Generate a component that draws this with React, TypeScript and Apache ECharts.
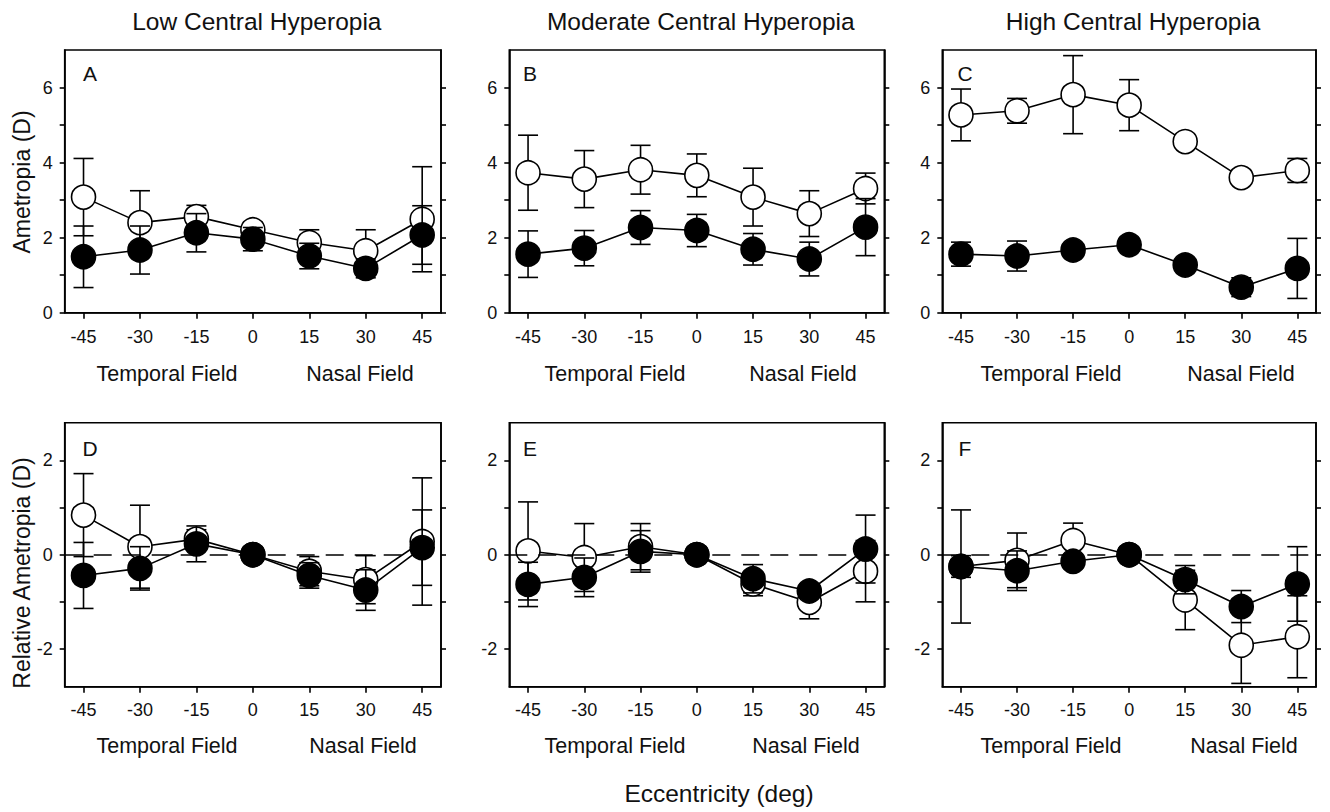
import React, { useEffect, useRef } from "react";
import * as echarts from "echarts";

// ---------- data ----------
const eccentricity = [-45, -30, -15, 0, 15, 30, 45];
const xTickLabels = [-45, -30, -15, 0, 15, 30, 45];

const panelTitles = ["Low Central Hyperopia", "Moderate Central Hyperopia", "High Central Hyperopia"];
const panelLetters = ["A", "B", "C", "D", "E", "F"];

// Panel A (absolute, low)
const openA = [3.08, 2.4, 2.56, 2.21, 1.87, 1.65, 2.49];
const openASd = [1.03, 0.85, 0.3, 0.2, 0.34, 0.56, 1.4];
const filledA = [1.49, 1.67, 2.13, 1.96, 1.51, 1.18, 2.07];
const filledASd = [0.82, 0.64, 0.51, 0.31, 0.34, 0.25, 0.78];

// Panel B (absolute, moderate)
const openB = [3.73, 3.56, 3.81, 3.66, 3.08, 2.64, 3.31];
const openBSd = [1.0, 0.76, 0.65, 0.57, 0.77, 0.61, 0.41];
const filledB = [1.56, 1.72, 2.27, 2.19, 1.69, 1.43, 2.28];
const filledBSd = [0.62, 0.47, 0.45, 0.43, 0.42, 0.45, 0.76];

// Panel C (absolute, high)
const openC = [5.27, 5.38, 5.81, 5.53, 4.56, 3.6, 3.79];
const openCSd = [0.69, 0.33, 1.04, 0.68, 0.15, 0.15, 0.32];
const filledC = [1.56, 1.51, 1.67, 1.81, 1.27, 0.68, 1.18];
const filledCSd = [0.32, 0.4, 0.15, 0.15, 0.15, 0.25, 0.8];

// Panel D (relative, low)
const openD = [0.84, 0.17, 0.33, 0, -0.35, -0.53, 0.28];
const openDSd = [0.88, 0.88, 0.2, 0, 0.31, 0.51, 1.35];
const filledD = [-0.44, -0.29, 0.23, 0, -0.44, -0.75, 0.15];
const filledDSd = [0.7, 0.46, 0.38, 0, 0.27, 0.43, 0.8];

// Panel E (relative, moderate)
const openE = [0.08, -0.06, 0.17, 0, -0.62, -1.01, -0.35];
const openESd = [1.04, 0.72, 0.49, 0, 0.25, 0.35, 0.65];
const filledE = [-0.63, -0.48, 0.07, 0, -0.51, -0.77, 0.12];
const filledESd = [0.47, 0.41, 0.44, 0, 0.3, 0.15, 0.72];

// Panel F (relative, high)
const openF = [-0.25, -0.12, 0.3, 0, -0.96, -1.92, -1.74];
const openFSd = [1.2, 0.58, 0.37, 0, 0.63, 0.81, 0.87];
const filledF = [-0.25, -0.34, -0.14, 0, -0.53, -1.1, -0.62];
const filledFSd = [0.23, 0.42, 0.15, 0, 0.3, 0.34, 0.79];

const topYTicks = [0, 1, 2, 3, 4, 5, 6];
const topYLabels = [0, 2, 4, 6];
const bottomYTicks = [-2, -1, 0, 1, 2];
const bottomYLabels = [-2, 0, 2];

// ---------- layout ----------
const FONT = '"Liberation Sans", Arial, Helvetica, sans-serif';
const gridLeft = [64.7, 509.3, 942.3];
const gridWidth = [376.3, 375, 373.7];
const gridTop = [50, 422.7];
const gridHeight = [262.7, 264];
const temporalX = [167, 615, 1051];
const nasalX = [360, 803, 1241];
const fieldY = [374, 746];

const panels = [
  { open: openA, openSd: openASd, filled: filledA, filledSd: filledASd },
  { open: openB, openSd: openBSd, filled: filledB, filledSd: filledBSd },
  { open: openC, openSd: openCSd, filled: filledC, filledSd: filledCSd },
  { open: openD, openSd: openDSd, filled: filledD, filledSd: filledDSd },
  { open: openE, openSd: openESd, filled: filledE, filledSd: filledESd },
  { open: openF, openSd: openFSd, filled: filledF, filledSd: filledFSd },
];

function errorBarRender(params: any, api: any) {
  const x = api.value(0);
  const lo = api.value(1);
  const hi = api.value(2);
  if (hi - lo <= 0) return null;
  const pLo = api.coord([x, lo]);
  const pHi = api.coord([x, hi]);
  const hw = 10;
  const st = { stroke: "#000", lineWidth: 1.6 };
  return {
    type: "group",
    children: [
      { type: "line", shape: { x1: pLo[0], y1: pLo[1], x2: pHi[0], y2: pHi[1] }, style: st },
      { type: "line", shape: { x1: pLo[0] - hw, y1: pLo[1], x2: pLo[0] + hw, y2: pLo[1] }, style: st },
      { type: "line", shape: { x1: pHi[0] - hw, y1: pHi[1], x2: pHi[0] + hw, y2: pHi[1] }, style: st },
    ],
  };
}

function buildOption() {
  const grid: any[] = [];
  const xAxis: any[] = [];
  const yAxis: any[] = [];
  const series: any[] = [];
  const graphic: any[] = [];

  panels.forEach((p, i) => {
    const row = Math.floor(i / 3);
    const col = i % 3;
    grid.push({
      left: gridLeft[col],
      top: gridTop[row],
      width: gridWidth[col],
      height: gridHeight[row],
      show: true,
      borderColor: "#000",
      borderWidth: 1.6,
      backgroundColor: "transparent",
    });
    xAxis.push({
      type: "value",
      gridIndex: i,
      min: -50,
      max: 50,
      splitLine: { show: false },
      axisLine: { show: true, onZero: false, lineStyle: { color: "#000", width: 1.6 } },
      axisTick: { show: true, inside: false, length: 6, lineStyle: { color: "#000", width: 1.6 }, customValues: xTickLabels },
      axisLabel: {
        customValues: xTickLabels,
        color: "#111",
        fontSize: 18,
        fontFamily: FONT,
        margin: row === 0 ? 15 : 14,
      },
    });
    const yMin = row === 0 ? 0 : -2.8;
    const yMax = row === 0 ? 7 : 2.8;
    const ticks = row === 0 ? topYTicks : bottomYTicks;
    const labels = row === 0 ? topYLabels : bottomYLabels;
    yAxis.push({
      type: "value",
      gridIndex: i,
      min: yMin,
      max: yMax,
      position: "left",
      splitLine: { show: false },
      axisLine: { show: true, onZero: false, lineStyle: { color: "#000", width: 1.6 } },
      axisTick: { show: true, inside: false, length: 5, lineStyle: { color: "#000", width: 1.6 }, customValues: ticks },
      axisLabel: { customValues: labels, color: "#111", fontSize: 18, fontFamily: FONT, margin: 12 },
    });
    yAxis.push({
      type: "value",
      gridIndex: i,
      min: yMin,
      max: yMax,
      position: "right",
      splitLine: { show: false },
      axisLine: { show: true, onZero: false, lineStyle: { color: "#000", width: 1.6 } },
      axisTick: { show: true, inside: false, length: 5, lineStyle: { color: "#000", width: 1.6 }, customValues: ticks },
      axisLabel: { show: false },
    });

    const yIdx = i * 2;
    if (row === 1) {
      series.push({
        type: "line",
        xAxisIndex: i,
        yAxisIndex: yIdx,
        data: [],
        z: 1,
        markLine: {
          silent: true,
          symbol: "none",
          label: { show: false },
          lineStyle: { color: "#000", width: 1.6, type: [18, 11] },
          data: [{ yAxis: 0 }],
        },
      });
    }
    series.push({
      type: "custom",
      xAxisIndex: i,
      yAxisIndex: yIdx,
      z: 2,
      renderItem: errorBarRender,
      encode: { x: 0, y: [1, 2] },
      data: eccentricity.map((x, k) => [x, p.open[k] - p.openSd[k], p.open[k] + p.openSd[k]]),
    });
    series.push({
      type: "line",
      xAxisIndex: i,
      yAxisIndex: yIdx,
      z: 3,
      symbol: "circle",
      symbolSize: 24,
      lineStyle: { color: "#000", width: 1.6 },
      itemStyle: { color: "#fff", borderColor: "#000", borderWidth: 1.6 },
      data: eccentricity.map((x, k) => [x, p.open[k]]),
    });
    series.push({
      type: "custom",
      xAxisIndex: i,
      yAxisIndex: yIdx,
      z: 4,
      renderItem: errorBarRender,
      encode: { x: 0, y: [1, 2] },
      data: eccentricity.map((x, k) => [x, p.filled[k] - p.filledSd[k], p.filled[k] + p.filledSd[k]]),
    });
    series.push({
      type: "line",
      xAxisIndex: i,
      yAxisIndex: yIdx,
      z: 5,
      symbol: "circle",
      symbolSize: 24,
      lineStyle: { color: "#000", width: 1.6 },
      itemStyle: { color: "#000", borderColor: "#000", borderWidth: 1.6 },
      data: eccentricity.map((x, k) => [x, p.filled[k]]),
    });

    // panel letter
    const letterDx = [25.3, 20.7, 22.7][col];
    const letterDy = row === 0 ? 23 : 25.3;
    graphic.push({
      type: "text",
      x: gridLeft[col] + letterDx,
      y: gridTop[row] + letterDy,
      style: {
        text: panelLetters[i],
        fontSize: 21,
        fontFamily: FONT,
        fill: "#111",
        textAlign: "center",
        textVerticalAlign: "middle",
      },
    });
  });

  // titles
  panelTitles.forEach((t, c) => {
    graphic.push({
      type: "text",
      x: gridLeft[c] + gridWidth[c] / 2 + 4,
      y: 21,
      style: { text: t, fontSize: 24.5, fontFamily: FONT, fill: "#111", textAlign: "center", textVerticalAlign: "middle" },
    });
  });

  // field labels
  [0, 1].forEach((r) => {
    [0, 1, 2].forEach((c) => {
      graphic.push({
        type: "text",
        x: temporalX[c],
        y: fieldY[r],
        style: { text: "Temporal Field", fontSize: 21.5, fontFamily: FONT, fill: "#111", textAlign: "center", textVerticalAlign: "middle" },
      });
      graphic.push({
        type: "text",
        x: nasalX[c] + (r === 1 ? 3 : 0),
        y: fieldY[r],
        style: { text: "Nasal Field", fontSize: 21.5, fontFamily: FONT, fill: "#111", textAlign: "center", textVerticalAlign: "middle" },
      });
    });
  });

  // y titles
  graphic.push({
    type: "text",
    x: 22,
    y: 182,
    rotation: Math.PI / 2,
    style: { text: "Ametropia (D)", fontSize: 23, fontFamily: FONT, fill: "#111", textAlign: "center", textVerticalAlign: "middle" },
  });
  graphic.push({
    type: "text",
    x: 22,
    y: 573,
    rotation: Math.PI / 2,
    style: { text: "Relative Ametropia (D)", fontSize: 23, fontFamily: FONT, fill: "#111", textAlign: "center", textVerticalAlign: "middle" },
  });
  // x title
  graphic.push({
    type: "text",
    x: 719,
    y: 793,
    style: { text: "Eccentricity (deg)", fontSize: 24.5, fontFamily: FONT, fill: "#111", textAlign: "center", textVerticalAlign: "middle" },
  });

  return {
    animation: false,
    backgroundColor: "#fff",
    grid,
    xAxis,
    yAxis,
    series,
    graphic,
  };
}

export default function App() {
  const ref = useRef<HTMLDivElement>(null);
  useEffect(() => {
    if (!ref.current) return;
    const chart = echarts.init(ref.current, undefined, { renderer: "svg" });
    chart.setOption(buildOption() as any);
    return () => chart.dispose();
  }, []);
  return (
    <div
      ref={ref}
      style={{ position: "fixed", left: 0, top: 0, width: 1330, height: 812, background: "#fff" }}
    />
  );
}
